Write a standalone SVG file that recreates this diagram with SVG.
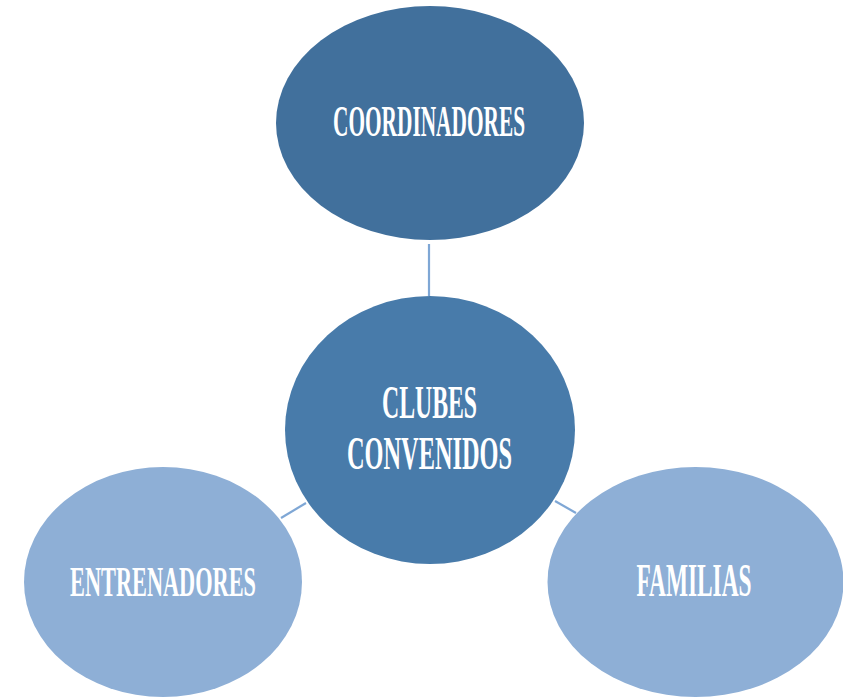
<svg xmlns="http://www.w3.org/2000/svg" width="843" height="698" viewBox="0 0 843 698">
<style>
.lbl{font-family:"Liberation Serif","DejaVu Serif",serif;font-weight:bold;fill:#ffffff;text-anchor:middle}
.conn line{stroke:#7FA7D5;stroke-width:2.2}
</style>
<rect width="843" height="698" fill="#ffffff"/>
<g id="connectors" class="conn">
<line x1="429" y1="244" x2="429" y2="296"/>
<line x1="281" y1="518" x2="306" y2="503"/>
<line x1="555" y1="501" x2="576" y2="513"/>
</g>
<g id="coordinadores">
<ellipse cx="430" cy="123" rx="154" ry="117" fill="#41709C"/>
<text class="lbl" transform="translate(429 136) scale(0.5 1)" x="0" y="0" font-size="45" textLength="384" lengthAdjust="spacingAndGlyphs">COORDINADORES</text>
</g>
<g id="clubes">
<ellipse cx="430" cy="430" rx="145" ry="134" fill="#487BAA"/>
<text class="lbl" transform="translate(429.5 418) scale(0.5 1)" x="0" y="0" font-size="47" textLength="190" lengthAdjust="spacingAndGlyphs">CLUBES</text>
<text class="lbl" transform="translate(429.5 469) scale(0.5 1)" x="0" y="0" font-size="47" textLength="330" lengthAdjust="spacingAndGlyphs">CONVENIDOS</text>
</g>
<g id="entrenadores">
<ellipse cx="163" cy="582" rx="139" ry="115" fill="#8EAFD6"/>
<text class="lbl" transform="translate(163 596) scale(0.5 1)" x="0" y="0" font-size="43" textLength="372" lengthAdjust="spacingAndGlyphs">ENTRENADORES</text>
</g>
<g id="familias">
<ellipse cx="695.5" cy="582" rx="148" ry="115" fill="#8EAFD6"/>
<text class="lbl" transform="translate(694 596) scale(0.5 1)" x="0" y="0" font-size="47" textLength="230" lengthAdjust="spacingAndGlyphs">FAMILIAS</text>
</g>
</svg>
